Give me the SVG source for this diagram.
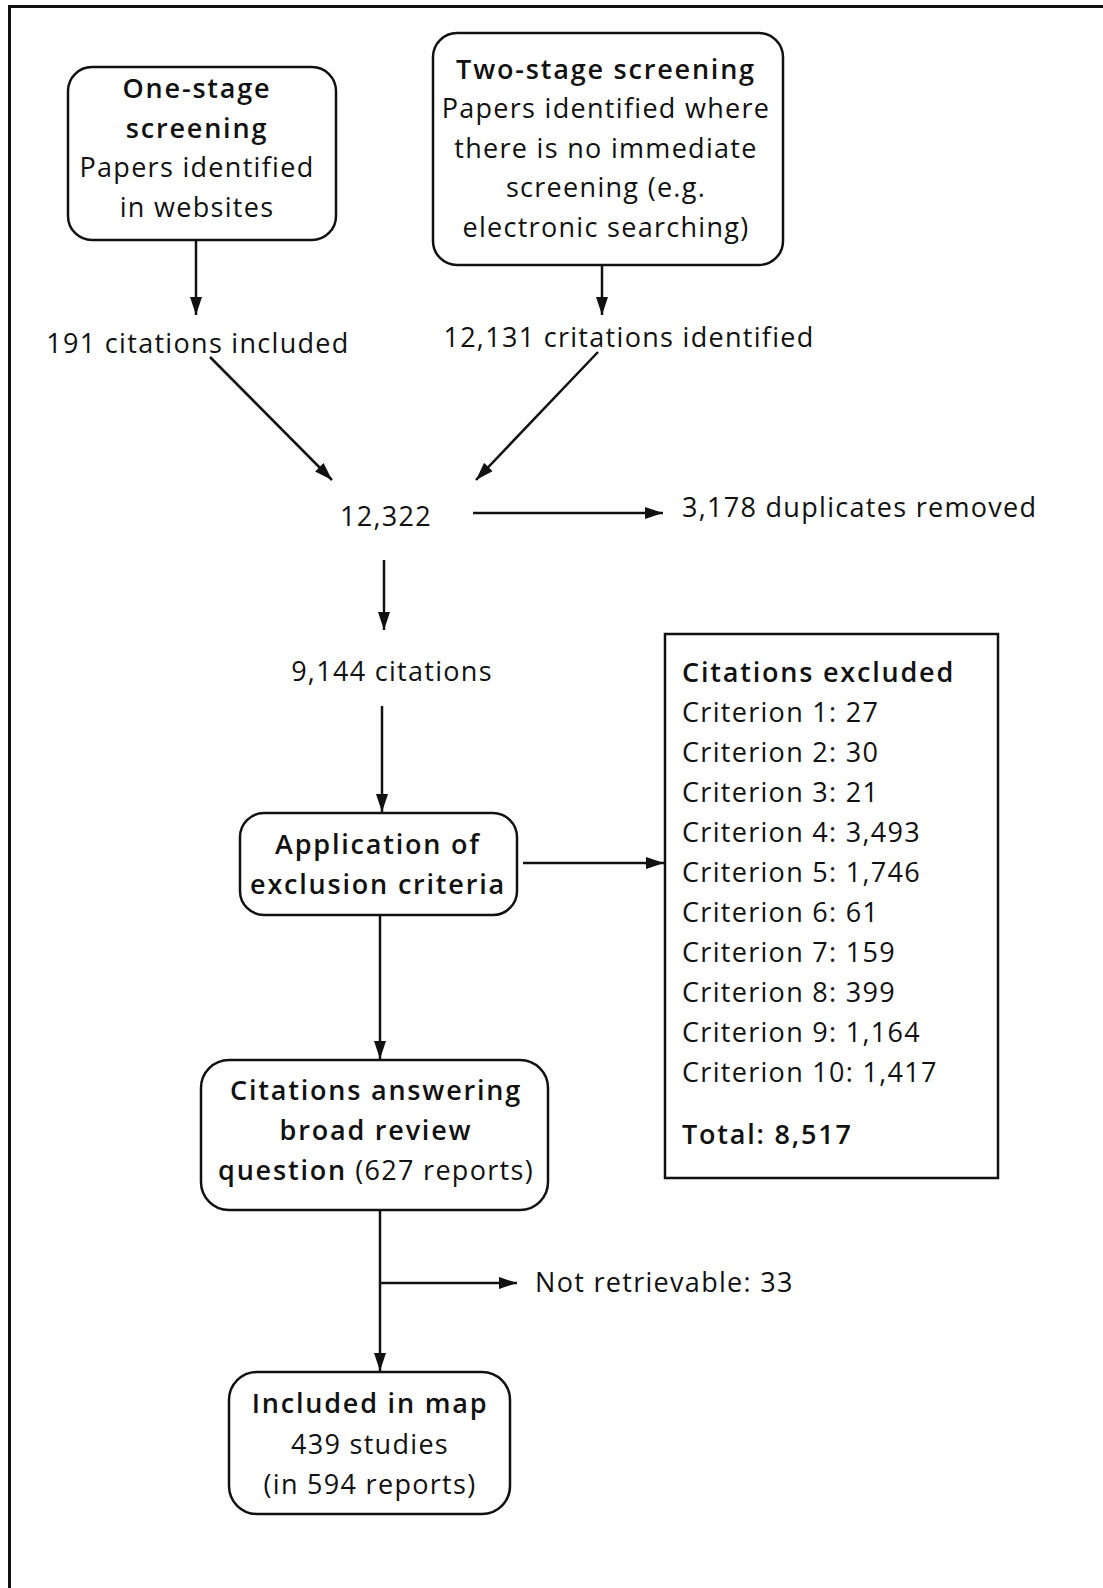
<svg xmlns="http://www.w3.org/2000/svg" width="1103" height="1588" viewBox="0 0 1103 1588">
<defs>
<style>
text{font-family:"Open Sans","Noto Sans","DejaVu Sans",sans-serif;font-size:27px;letter-spacing:1.3px;fill:#111}
.c{text-anchor:middle}
.b{font-weight:600;letter-spacing:1.8px}
.box{fill:#fff;stroke:#111;stroke-width:2.5}
.ln{stroke:#111;stroke-width:2.5;fill:none}
</style>
<marker id="ah" viewBox="0 0 18 12" refX="18" refY="6" markerWidth="18" markerHeight="12" markerUnits="userSpaceOnUse" orient="auto"><path d="M0,0 L18,6 L0,12 z" fill="#111"/></marker>
</defs>
<rect width="1103" height="1588" fill="#fff"/>
<path d="M9.5,1588 V6.5 H1103" fill="none" stroke="#111" stroke-width="3"/>

<g id="one-stage">
<rect class="box" x="68" y="67" width="268" height="173" rx="24"/>
<text class="c b" x="197" y="98">One-stage</text>
<text class="c b" x="197" y="138">screening</text>
<text class="c" x="197" y="177">Papers identified</text>
<text class="c" x="197" y="217">in websites</text>
</g>

<g id="two-stage">
<rect class="box" x="433" y="33" width="350" height="232" rx="24"/>
<text class="c b" x="606" y="79">Two-stage screening</text>
<text class="c" x="606" y="118">Papers identified where</text>
<text class="c" x="606" y="158">there is no immediate</text>
<text class="c" x="606" y="197">screening (e.g.</text>
<text class="c" x="606" y="237">electronic searching)</text>
</g>

<g id="n191"><text class="c" x="198" y="353">191 citations included</text></g>
<g id="n12131"><text class="c" x="629" y="347">12,131 critations identified</text></g>
<g id="n12322"><text class="c" x="386" y="526">12,322</text></g>
<g id="dup"><text x="682" y="517">3,178 duplicates removed</text></g>
<g id="n9144"><text class="c" x="392" y="681">9,144 citations</text></g>

<g id="application">
<rect class="box" x="240" y="813" width="277" height="102" rx="24"/>
<text class="c b" x="378" y="854">Application of</text>
<text class="c b" x="378" y="894">exclusion criteria</text>
</g>

<g id="excluded">
<rect class="box" x="665" y="634" width="333" height="544"/>
<text class="b" x="682" y="682">Citations excluded</text>
<text x="682" y="722">Criterion 1: 27</text>
<text x="682" y="762">Criterion 2: 30</text>
<text x="682" y="802">Criterion 3: 21</text>
<text x="682" y="842">Criterion 4: 3,493</text>
<text x="682" y="882">Criterion 5: 1,746</text>
<text x="682" y="922">Criterion 6: 61</text>
<text x="682" y="962">Criterion 7: 159</text>
<text x="682" y="1002">Criterion 8: 399</text>
<text x="682" y="1042">Criterion 9: 1,164</text>
<text x="682" y="1082">Criterion 10: 1,417</text>
<text class="b" x="682" y="1144">Total: 8,517</text>
</g>

<g id="answering">
<rect class="box" x="201" y="1060" width="347" height="150" rx="28"/>
<text class="c b" x="376" y="1100">Citations answering</text>
<text class="c b" x="376" y="1140">broad review</text>
<text class="c" x="376" y="1180"><tspan class="b">question</tspan> (627 reports)</text>
</g>

<g id="notret"><text x="535" y="1292">Not retrievable: 33</text></g>

<g id="included">
<rect class="box" x="229" y="1372" width="281" height="142" rx="28"/>
<text class="c b" x="370" y="1413">Included in map</text>
<text class="c" x="370" y="1454">439 studies</text>
<text class="c" x="370" y="1494">(in 594 reports)</text>
</g>

<g id="connectors">
<line class="ln" x1="196" y1="240" x2="196" y2="315" marker-end="url(#ah)"/>
<line class="ln" x1="602" y1="265" x2="602" y2="315" marker-end="url(#ah)"/>
<line class="ln" x1="210" y1="357" x2="332" y2="480" marker-end="url(#ah)"/>
<line class="ln" x1="598" y1="352" x2="476" y2="480" marker-end="url(#ah)"/>
<line class="ln" x1="473" y1="513" x2="663" y2="513" marker-end="url(#ah)"/>
<line class="ln" x1="384" y1="560" x2="384" y2="630" marker-end="url(#ah)"/>
<line class="ln" x1="382" y1="706" x2="382" y2="812" marker-end="url(#ah)"/>
<line class="ln" x1="523" y1="863" x2="664" y2="863" marker-end="url(#ah)"/>
<line class="ln" x1="380" y1="915" x2="380" y2="1059" marker-end="url(#ah)"/>
<line class="ln" x1="380" y1="1210" x2="380" y2="1371" marker-end="url(#ah)"/>
<line class="ln" x1="380" y1="1283" x2="517" y2="1283" marker-end="url(#ah)"/>
</g>
</svg>
